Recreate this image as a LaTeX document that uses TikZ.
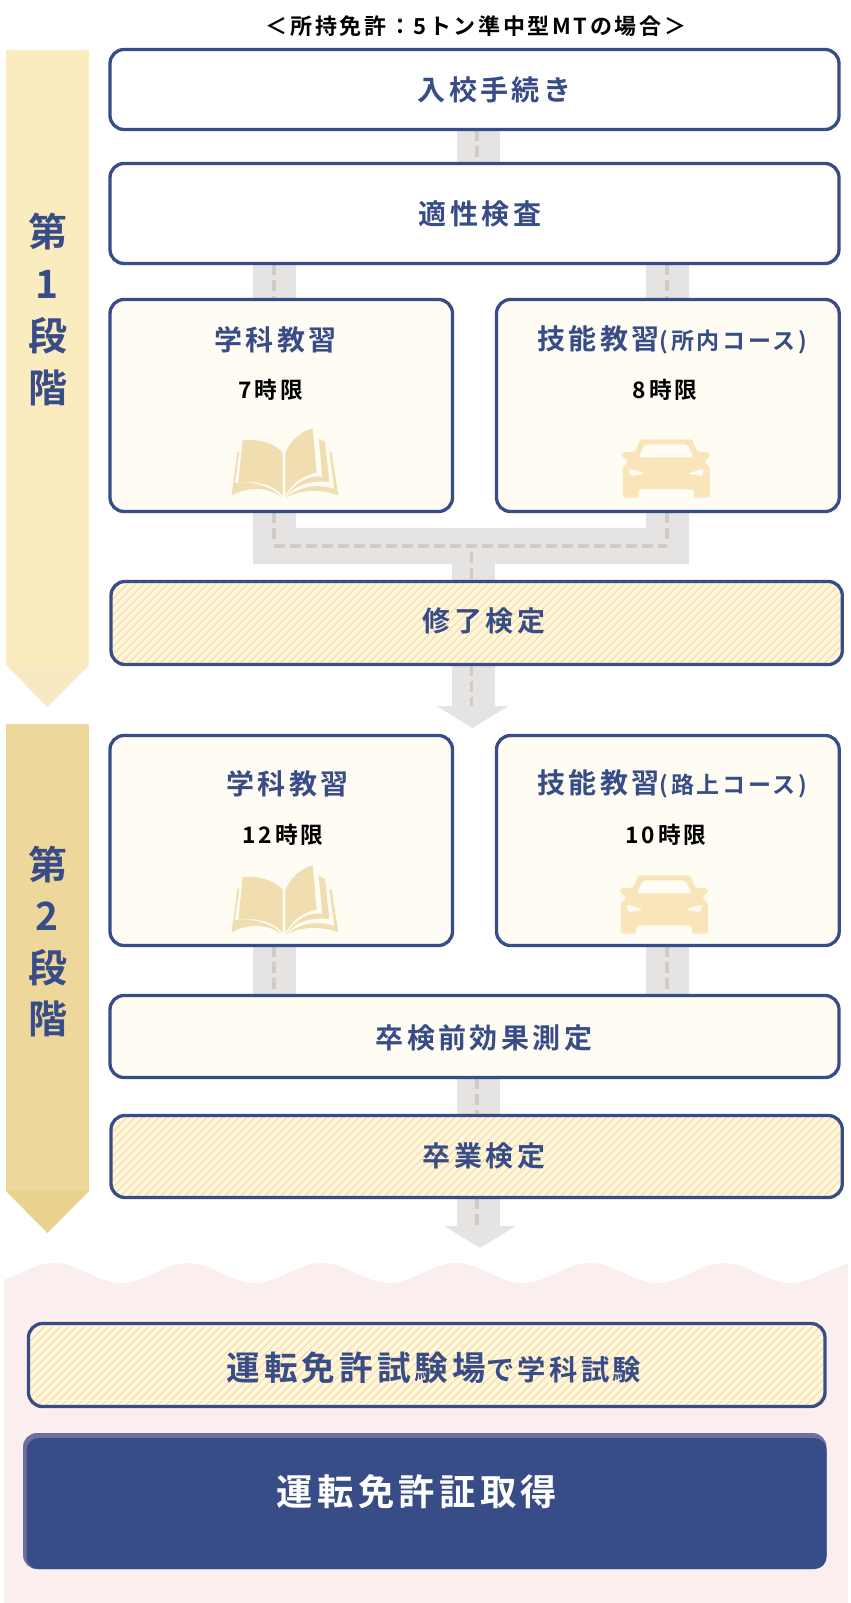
\documentclass[tikz,border=0pt]{standalone}
\usepackage{fontspec}
\usetikzlibrary{calc}
\newfontfamily\jp[LetterSpace=12,BoldFont={Noto Sans CJK JP Bold}]{Noto Sans CJK JP}
\pgfdeclarelayer{roads}
\pgfsetlayers{roads,main}
\definecolor{navy}{HTML}{384C87}
\definecolor{cream}{HTML}{FFFCF4}
\definecolor{pinkbg}{HTML}{FBEEEE}
\definecolor{bandA}{HTML}{FBECC0}
\definecolor{bandAtip}{HTML}{F8E9C2}
\definecolor{bandB}{HTML}{EDD79A}
\definecolor{bandBtip}{HTML}{E8D28E}
\definecolor{roadc}{HTML}{E5E4E2}
\definecolor{dashc}{HTML}{D0CCC4}
\definecolor{bookc}{HTML}{F0DEB0}
\definecolor{carc}{HTML}{F9E5B9}
\definecolor{hatchbg}{HTML}{FFF6E0}
\definecolor{hatchln}{HTML}{F8D88C}
\definecolor{hilite}{HTML}{6F6F9F}
\tikzset{
  x=1pt,y=-1pt,
  every node/.style={inner sep=0pt,outer sep=0pt},
  boxbase/.style={draw=navy,line width=3.3pt,rounded corners=14pt,anchor=north west},
  whitebox/.style={boxbase,fill=white},
  creambox/.style={boxbase,fill=cream},
  hatchbox/.style={boxbase,fill=hatchbg,path picture={
    \foreach \k in {-200,-192,...,1000}{
      \draw[hatchln,line width=0.9pt] ([xshift=\k pt]path picture bounding box.south west) -- ++(120pt,120pt);
    }}},
  road/.style={roadc,line width=43pt},
  lanedash/.style={dashc,line width=3.5pt,dash pattern=on 11pt off 5pt},
  lbl/.style={font=\jp\bfseries\fontsize{28}{28}\selectfont,text=navy},
  sublbl/.style={font=\jp\bfseries\fontsize{22.7}{23}\selectfont,text=black},
  steplbl/.style={font=\fontsize{39}{39}\selectfont\jp\bfseries,text=navy},
  book/.pic={
    \fill[bookc,scale=0.3333]
      (68,60) .. controls (110,55) and (165,70) .. (188,98) -- (188,228) .. controls (165,195) and (110,182) .. (55,187) -- cycle
      (196,98) .. controls (215,55) and (250,32) .. (278,25) -- (290,158) .. controls (250,165) and (215,190) .. (196,228) -- cycle
      (296,55) -- (315,66) -- (328,186) .. controls (270,180) and (225,195) .. (200,230) .. controls (225,185) and (270,165) .. (307,170) -- cycle
      (328,95) -- (335,97) -- (355,226) .. controls (300,205) and (240,210) .. (198,233) .. controls (240,198) and (290,190) .. (343,207) -- cycle
      (52,95) -- (58,95) -- (45,190) .. controls (90,180) and (160,200) .. (182,230) .. controls (150,205) and (90,195) .. (35,226) -- cycle;
  },
  car/.pic={
    \fill[carc,scale=0.3333,even odd rule,rounded corners=2.5pt]
      (120,43) -- (276,43) -- (292,81) -- (326,81) -- (333,92) -- (312,108) -- (330,128) -- (330,218) -- (282,218) -- (282,193) -- (115,193) -- (115,218) -- (68,218) -- (68,128) -- (86,108) -- (63,92) -- (70,81) -- (106,81) -- cycle
      (134,58) -- (262,58) -- (282,97) -- (116,97) -- cycle
      (85,130) -- (137,146) -- (90,154) -- cycle
      (312,130) -- (260,146) -- (308,154) -- cycle;
  }
}
\begin{document}
\begin{tikzpicture}
\useasboundingbox (0,0) rectangle (851,1603);
% pink ground with wavy top
\fill[pinkbg] plot[domain=4:848,samples=220] (\x,{1273-10*cos((\x-54)/134*360)}) -- (848,1603) -- (4,1603) -- cycle;
% stage bands
\fill[bandA] (6,50) rectangle (89,665);
\fill[bandAtip] (6,665) -- (89,665) -- (47.5,707) -- cycle;
\fill[bandB] (6,724) rectangle (89,1191);
\fill[bandBtip] (6,1191) -- (89,1191) -- (47.5,1233) -- cycle;
\node[steplbl] (s1a) at (47.5,232) {第};
\node[steplbl] (s1b) at (47.5,284) {1};
\node[steplbl] (s1c) at (47.5,336) {段};
\node[steplbl] (s1d) at (47.5,388) {階};
\node[steplbl] (s2a) at (47.5,865) {第};
\node[steplbl] (s2b) at (47.5,916) {2};
\node[steplbl] (s2c) at (47.5,968) {段};
\node[steplbl] (s2d) at (47.5,1019) {階};
% boxes
\node[whitebox,minimum width=729pt,minimum height=80pt] (enroll) at (110,49.5) {};
\node[whitebox,minimum width=729pt,minimum height=100pt] (apt) at (110,163.5) {};
\node[creambox,minimum width=342.5pt,minimum height=212pt] (gakuA) at (110,299.5) {};
\node[creambox,minimum width=342.7pt,minimum height=212pt] (ginoA) at (496.5,299.5) {};
\node[hatchbox,minimum width=731.3pt,minimum height=83pt] (shuryo) at (111,581.5) {};
\node[creambox,minimum width=342.5pt,minimum height=210pt] (gakuB) at (110,735.5) {};
\node[creambox,minimum width=342.7pt,minimum height=210pt] (ginoB) at (496.5,735.5) {};
\node[creambox,minimum width=729pt,minimum height=82pt] (sotsuken) at (110,995.5) {};
\node[hatchbox,minimum width=731.3pt,minimum height=82pt] (sotsugyo) at (111,1115.5) {};
\node[hatchbox,minimum width=796.5pt,minimum height=83pt] (shiken) at (28.5,1323.5) {};
\node[draw=none,fill=hilite,rounded corners=14pt,anchor=north west,minimum width=803.5pt,minimum height=136pt] (license) at (23,1433) {};
\fill[navy,rounded corners=12pt] (26.5,1438) rectangle (826.5,1569);
% road guides
\coordinate (rc) at (478.5,0);
\coordinate (rl) at (274.5,0);
\coordinate (rr) at (667.5,0);
\coordinate (rm) at (473.5,0);
\coordinate (dc) at (477,0);
\coordinate (dlx) at (274,0);
\coordinate (drx) at (667,0);
\coordinate (dm) at (471.5,0);
\coordinate (ju) at (473.5,546);
\coordinate (jl) at (274,546);
\coordinate (jr) at (667,546);
\coordinate (tb) at (0,564);
\coordinate (tr) at (0,551);
\coordinate (dl) at (0,539);
\coordinate (ds) at (0,552);
\coordinate (tipA) at (473.5,706);
\coordinate (tipB) at (478.5,1226);
\begin{pgfonlayer}{roads}
\draw[road] (rc |- enroll.south) -- (rc |- apt.north);
\draw[road] (rl |- apt.south) -- (rl |- gakuA.north);
\draw[road] (rr |- apt.south) -- (rr |- ginoA.north);
\draw[road] (rl |- gakuA.south) -- (rl |- tb);
\draw[road] (rr |- ginoA.south) -- (rr |- tr);
\fill[roadc] (252.5,528) rectangle (688.5,564);
\draw[road] (ju) -- (rm |- shuryo.north);
\draw[road] (rm |- shuryo.south) -- (tipA);
\fill[roadc] ($(tipA)+(-37,0)$) -- ($(tipA)+(35,0)$) -- ($(tipA)+(-1,22)$) -- cycle;
\draw[road] (rl |- gakuB.south) -- (rl |- sotsuken.north);
\draw[road] (rr |- ginoB.south) -- (rr |- sotsuken.north);
\draw[road] (rc |- sotsuken.south) -- (rc |- sotsugyo.north);
\draw[road] (rc |- sotsugyo.south) -- (tipB);
\fill[roadc] ($(tipB)+(-34.5,0)$) -- ($(tipB)+(37.5,0)$) -- ($(tipB)+(1.5,22)$) -- cycle;
\draw[lanedash] (dc |- enroll.south) -- (dc |- apt.north);
\draw[lanedash] (dlx |- apt.south) -- (dlx |- gakuA.north);
\draw[lanedash] (drx |- apt.south) -- (drx |- ginoA.north);
\draw[lanedash] (dlx |- gakuA.south) -- (dlx |- dl);
\draw[lanedash] (drx |- ginoA.south) -- (drx |- dl);
\draw[lanedash] (jl) -- (jr);
\draw[lanedash] (dm |- ds) -- (dm |- shuryo.north);
\draw[lanedash] (dm |- shuryo.south) -- (dm |- tipA);
\draw[lanedash] (dlx |- gakuB.south) -- (dlx |- sotsuken.north);
\draw[lanedash] (drx |- ginoB.south) -- (drx |- sotsuken.north);
\draw[lanedash] (dc |- sotsuken.south) -- (dc |- sotsugyo.north);
\draw[lanedash] (dc |- sotsugyo.south) -- (dc |- tipB);
\end{pgfonlayer}
% labels
\node[font=\jp\bfseries\fontsize{22}{22}\selectfont,text=black] (cap) at (476,26.5) {＜所持免許：5トン準中型MTの場合＞};
\node[lbl] (t1) at (494.5,90) {入校手続き};
\node[lbl] (t2) at (480,214) {適性検査};
\node[lbl] (t3) at (275.5,340) {学科教習};
\node[lbl] (t4) at (672.5,340) {技能教習{\fontsize{23}{23}\selectfont (所内コース)}};
\node[sublbl] (t5) at (271,390) {7時限};
\node[sublbl] (t6) at (665,390) {8時限};
\pic at (220,420) {book};
\pic at (600,425) {car};
\node[lbl] (t7) at (484,621) {修了検定};
\node[lbl] (t8) at (287.5,783.5) {学科教習};
\node[lbl] (t9) at (672.5,784) {技能教習{\fontsize{23}{23}\selectfont (路上コース)}};
\node[sublbl] (t10) at (283,835) {12時限};
\node[sublbl] (t11) at (666,835) {10時限};
\pic at (220,857) {book};
\pic at (598,861) {car};
\node[lbl] (t12) at (484,1038) {卒検前効果測定};
\node[lbl] (t13) at (484,1156) {卒業検定};
\node[font=\jp\bfseries\fontsize{33.6}{34}\selectfont,text=navy] (t14) at (434,1367.5) {運転免許試験場{\fontsize{28.3}{28}\selectfont で学科試験}};
\node[font=\jp\bfseries\fontsize{36.3}{36}\selectfont,text=white] (t15) at (417,1492) {運転免許証取得};
\end{tikzpicture}
\end{document}
